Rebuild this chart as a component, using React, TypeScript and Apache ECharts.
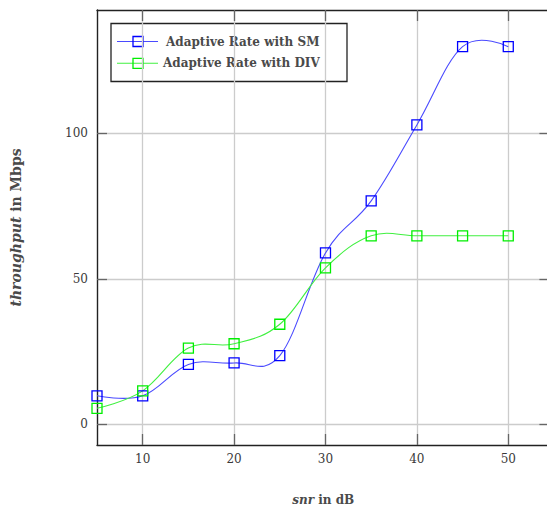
import React, { useEffect, useRef } from "react";
import * as echarts from "echarts";

const snr = [5, 10, 15, 20, 25, 30, 35, 40, 45, 50];
const smValues = [9.8, 9.8, 20.6, 21.1, 23.6, 58.9, 76.8, 102.9, 129.8, 129.8];
const divValues = [5.5, 11.5, 26.2, 27.7, 34.4, 53.8, 64.8, 64.8, 64.8, 64.8];
const xTicks = [10, 20, 30, 40, 50];
const yTicks = [0, 50, 100];
const seriesNames = ["Adaptive Rate with SM", "Adaptive Rate with DIV"];
const seriesColors = ["#0000ff", "#00ee00"];
const lineColors = ["#4a4aff", "#40f040"];

const FONT = "'DejaVu Serif', serif";
const TENSION = 0.183;

function smoothPath(pts: number[][], f: number): string {
  let d = `M${pts[0][0]},${pts[0][1]}`;
  const n = pts.length;
  const tan = (i: number) => {
    if (i === 0 || i === n - 1) return [0, 0];
    return [(pts[i + 1][0] - pts[i - 1][0]) * f, (pts[i + 1][1] - pts[i - 1][1]) * f];
  };
  for (let i = 0; i < n - 1; i++) {
    const t0 = tan(i);
    const t1 = tan(i + 1);
    const c1 = [pts[i][0] + t0[0], pts[i][1] + t0[1]];
    const c2 = [pts[i + 1][0] - t1[0], pts[i + 1][1] - t1[1]];
    d += ` C${c1[0]},${c1[1]} ${c2[0]},${c2[1]} ${pts[i + 1][0]},${pts[i + 1][1]}`;
  }
  return d;
}

export default function App() {
  const ref = useRef<HTMLDivElement>(null);
  useEffect(() => {
    if (!ref.current) return;
    const chart = echarts.init(ref.current, null, { renderer: "svg" });
    const curve = (name: string, vals: number[], i: number) => ({
      name: name + " curve",
      type: "custom",
      coordinateSystem: "cartesian2d",
      xAxisIndex: 0,
      yAxisIndex: 0,
      silent: true,
      clip: false,
      z: 2,
      data: [[snr[0], vals[0]]],
      renderItem: (_params: any, api: any) => {
        const pts = snr.map((x, k) => api.coord([x, vals[k]]));
        return {
          type: "path",
          shape: { pathData: smoothPath(pts, TENSION) },
          style: { fill: "none", stroke: lineColors[i], lineWidth: 1.1 },
        };
      },
    });
    const marks = (name: string, vals: number[], i: number) => ({
      name,
      type: "scatter",
      xAxisIndex: 0,
      yAxisIndex: 0,
      data: snr.map((x, k) => [x, vals[k]]),
      symbol: "rect",
      symbolSize: 10,
      itemStyle: { color: "rgba(0,0,0,0)", borderColor: seriesColors[i], borderWidth: 1.3, opacity: 1 },
      z: 3,
    });
    const labelStyle = { fontFamily: FONT, fontSize: 12, color: "#3a3a3a" };
    const tickStyle = { lineStyle: { color: "#666", width: 1.3 } };
    const titleColor = "#4a4a4a";
    chart.setOption({
      animation: false,
      backgroundColor: "#fff",
      grid: { left: 97, right: 10.6, top: 10, bottom: 66, containLabel: false, outerBoundsMode: "none" },
      xAxis: [
        {
          type: "value",
          min: 5,
          max: 54.5,
          position: "bottom",
          axisLine: { show: true, onZero: false, lineStyle: { color: "#222", width: 1.4 } },
          axisTick: { show: true, inside: true, length: 11, customValues: xTicks, ...tickStyle },
          axisLabel: { show: true, customValues: xTicks, margin: 8, ...labelStyle },
          splitLine: { show: true, lineStyle: { color: "#cccccc", width: 1.3 } },
          name: "{i|snr} in dB",
          nameLocation: "middle",
          nameGap: 49,
          nameTextStyle: {
            fontFamily: FONT,
            fontSize: 12,
            fontWeight: "bold",
            color: titleColor,
            rich: { i: { fontFamily: FONT, fontSize: 12, fontWeight: "bold", fontStyle: "italic", color: titleColor } },
          },
        },
        {
          type: "value",
          min: 5,
          max: 54.5,
          position: "top",
          axisLine: { show: true, onZero: false, lineStyle: { color: "#222", width: 1.4 } },
          axisTick: { show: true, inside: true, length: 11, customValues: xTicks, ...tickStyle },
          axisLabel: { show: false },
          splitLine: { show: false },
        },
      ],
      yAxis: [
        {
          type: "value",
          min: -7.1,
          max: 142.4,
          position: "left",
          axisLine: { show: true, onZero: false, lineStyle: { color: "#222", width: 1.4 } },
          axisTick: { show: true, inside: true, length: 10, customValues: yTicks, ...tickStyle },
          axisLabel: { show: true, customValues: yTicks, margin: 9, ...labelStyle },
          splitLine: { show: true, lineStyle: { color: "#cccccc", width: 1.3 } },
          name: "{i|throughput} in Mbps",
          nameLocation: "middle",
          nameGap: 74,
          nameRotate: 90,
          nameTextStyle: {
            fontFamily: FONT,
            fontSize: 14,
            fontWeight: "bold",
            color: titleColor,
            rich: { i: { fontFamily: FONT, fontSize: 14, fontWeight: "bold", fontStyle: "italic", color: titleColor } },
          },
        },
        {
          type: "value",
          min: -7.1,
          max: 142.4,
          position: "right",
          axisLine: { show: true, onZero: false, lineStyle: { color: "#222", width: 1.4 } },
          axisTick: { show: true, inside: true, length: 10, customValues: yTicks, ...tickStyle },
          axisLabel: { show: false },
          splitLine: { show: false },
        },
      ],
      series: [
        curve(seriesNames[0], smValues, 0),
        curve(seriesNames[1], divValues, 1),
        marks(seriesNames[0], smValues, 0),
        marks(seriesNames[1], divValues, 1),
      ],
      graphic: [
        {
          type: "group",
          z: 100,
          children: [
            {
              type: "rect",
              shape: { x: 111, y: 23.5, width: 236, height: 58 },
              style: { fill: "#fff", stroke: "#222", lineWidth: 1.3 },
            },
            ...[0, 1].flatMap((i) => {
              const y = i === 0 ? 41.5 : 63.3;
              return [
                {
                  type: "line",
                  shape: { x1: 117, y1: y, x2: 158, y2: y },
                  style: { stroke: lineColors[i], lineWidth: 1.1 },
                },
                {
                  type: "rect",
                  shape: { x: 133, y: y - 5, width: 10, height: 10 },
                  style: { fill: "none", stroke: seriesColors[i], lineWidth: 1.3 },
                },
                {
                  type: "text",
                  x: i === 0 ? 166 : 163,
                  y,
                  style: {
                    text: seriesNames[i],
                    fontFamily: FONT,
                    fontSize: 12,
                    fontWeight: "bold",
                    fill: titleColor,
                    verticalAlign: "middle",
                    align: "left",
                  },
                },
              ];
            }),
          ],
        },
      ],
    });
    return () => chart.dispose();
  }, []);
  return (
    <div style={{ position: "fixed", left: 0, top: 0, width: 547, height: 511, overflow: "hidden", background: "#fff" }}>
      <div ref={ref} style={{ width: 560, height: 511 }} />
    </div>
  );
}
